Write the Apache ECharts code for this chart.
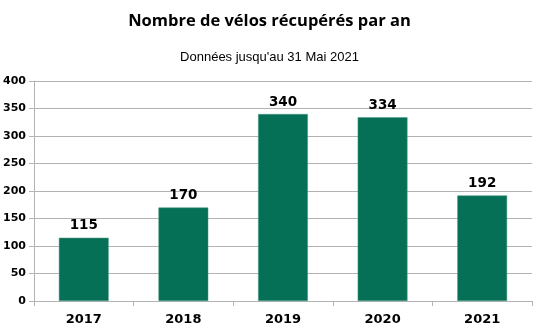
<!DOCTYPE html>
<html><head><meta charset="utf-8">
<script src="https://cdn.jsdelivr.net/npm/echarts@6/dist/echarts.min.js"></script>
<style>html,body{margin:0;padding:0;background:#fff}#c{width:539px;height:331px}</style>
</head><body><div id="c"></div>
<script>
const categories = ['2017', '2018', '2019', '2020', '2021'];
const values = [115, 170, 340, 334, 192];
const titleText = 'Nombre de vélos récupérés par an';
const subtitleText = "Données jusqu'au 31 Mai 2021";

const chart = echarts.init(document.getElementById('c'));
chart.setOption({
  animation: false,
  title: [
    { text: titleText, left: 'center', top: 8,
      textStyle: { fontFamily: 'Open Sans', fontWeight: 'bold', fontSize: 16.5, color: '#000' } },
    { text: subtitleText, left: 'center', top: 46,
      textStyle: { fontFamily: 'Liberation Sans', fontWeight: 'normal', fontSize: 13, color: '#000' } }
  ],
  grid: { left: 30, right: 7, top: 81, bottom: 30, containLabel: false },
  xAxis: {
    type: 'category', data: categories,
    axisLine: { lineStyle: { color: '#b3b3b3' } },
    axisTick: { show: true, length: 5, lineStyle: { color: '#b3b3b3' } },
    axisLabel: { fontFamily: 'DejaVu Sans', fontWeight: 'bold', fontSize: 13, color: '#000', margin: 12 }
  },
  yAxis: {
    type: 'value', min: 0, max: 400, interval: 50,
    axisLine: { show: true, lineStyle: { color: '#b3b3b3' } },
    axisTick: { show: true, length: 5, lineStyle: { color: '#b3b3b3' } },
    splitLine: { lineStyle: { color: '#b3b3b3' } },
    axisLabel: { fontFamily: 'DejaVu Sans', fontWeight: 'bold', fontSize: 11, color: '#000', margin: 8 }
  },
  series: [{
    type: 'bar', data: values, barWidth: '50%',
    itemStyle: { color: '#067056', borderColor: '#4f9a86', borderWidth: 0.5 },
    label: { show: true, position: 'top', distance: 5, fontFamily: 'DejaVu Sans', fontWeight: 'bold', fontSize: 13.5, color: '#000' }
  }]
});
</script></body></html>
